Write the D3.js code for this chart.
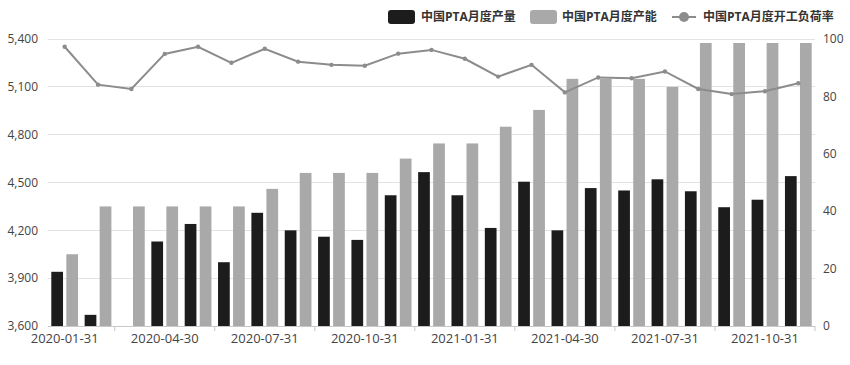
<!DOCTYPE html>
<html><head><meta charset="utf-8">
<script src="https://cdn.jsdelivr.net/npm/d3@7/dist/d3.min.js"></script>
<style>body{margin:0;background:#fff}svg{display:block;font-family:"Open Sans","Noto Sans CJK SC",sans-serif}</style>
</head><body><svg id="c" width="850" height="365"></svg>
<script>
const categories = ["2020-01-31","2020-02-29","2020-03-31","2020-04-30","2020-05-31","2020-06-30","2020-07-31","2020-08-31","2020-09-30","2020-10-31","2020-11-30","2020-12-31","2021-01-31","2021-02-28","2021-03-31","2021-04-30","2021-05-31","2021-06-30","2021-07-31","2021-08-31","2021-09-30","2021-10-31","2021-11-30"];
const production = [3940,3670,null,4130,4240,4000,4310,4200,4160,4140,4420,4565,4420,4215,4505,4200,4465,4450,4520,4445,4345,4392,4540];
const capacity = [4050,4350,4350,4350,4350,4350,4460,4560,4560,4560,4650,4745,4745,4850,4955,5150,5150,5150,5100,5375,5375,5375,5375];
const utilization = [97.3,84.1,82.6,94.8,97.3,91.7,96.6,92.1,91.0,90.7,94.9,96.2,93.1,86.9,91.0,81.4,86.6,86.3,88.7,82.6,80.8,81.8,84.6];
const leftTicks = [3600,3900,4200,4500,4800,5100,5400];
const rightTicks = [0,20,40,60,80,100];
const seriesNames = ["中国PTA月度产量","中国PTA月度产能","中国PTA月度开工负荷率"];

const svg = d3.select("#c");
const L = 48, R = 815, T = 39, B = 326;
const x = d3.scaleBand().domain(categories).range([L, R]).padding(0);
const inner = d3.scaleBand().domain(["p","c"]).range([0, x.bandwidth()]).paddingInner(0.22).paddingOuter(0.22);
const yL = d3.scaleLinear().domain([3600,5400]).range([B, T]);
const yR = d3.scaleLinear().domain([0,100]).range([B, T]);
const txt = "#444";

// gridlines
svg.append("g").selectAll("line").data(leftTicks).join("line")
  .attr("x1", L).attr("x2", R).attr("y1", d => yL(d)).attr("y2", d => yL(d))
  .attr("stroke", "#e3e3e3").attr("stroke-width", 1).attr("shape-rendering","crispEdges");

// left axis labels
svg.append("g").selectAll("text").data(leftTicks).join("text")
  .attr("x", 38).attr("y", d => yL(d)).attr("dy","0.35em").attr("text-anchor","end")
  .attr("font-size", 12).attr("fill", txt).text(d => d3.format(",")(d));
// right axis labels
svg.append("g").selectAll("text").data(rightTicks).join("text")
  .attr("x", 823).attr("y", d => yR(d)).attr("dy","0.35em").attr("text-anchor","start")
  .attr("font-size", 12).attr("fill", txt).text(d => d);

// bars
const g = svg.append("g");
g.selectAll("rect.p").data(categories.map((c,i)=>({c,v:production[i]})).filter(d=>d.v!=null)).join("rect")
  .attr("class","p").attr("x", d => x(d.c) + inner("p")).attr("width", inner.bandwidth())
  .attr("y", d => yL(d.v)).attr("height", d => B - yL(d.v)).attr("fill", "#1c1c1c");
g.selectAll("rect.c").data(categories.map((c,i)=>({c,v:capacity[i]}))).join("rect")
  .attr("class","c").attr("x", d => x(d.c) + inner("c")).attr("width", inner.bandwidth())
  .attr("y", d => yL(d.v)).attr("height", d => B - yL(d.v)).attr("fill", "#a9a9a9");

// x axis line and ticks
svg.append("line").attr("x1", L).attr("x2", R).attr("y1", B+0.5).attr("y2", B+0.5).attr("stroke", "#c8c8c8");
const tickIdx = d3.range(2, categories.length + 1, 3);
svg.append("g").selectAll("line").data(tickIdx).join("line")
  .attr("x1", i => L + i*x.step()).attr("x2", i => L + i*x.step())
  .attr("y1", B).attr("y2", B+5).attr("stroke", "#c8c8c8");
svg.append("g").selectAll("text").data(categories.filter((c,i)=>i%3===0)).join("text")
  .attr("x", d => x(d) + x.bandwidth()/2).attr("y", 343).attr("text-anchor","middle")
  .attr("font-size", 13).attr("fill", txt).text(d => d);

// line
const line = d3.line().x((d,i)=>x(categories[i]) + x.bandwidth()/2).y(d=>yR(d));
svg.append("path").attr("d", line(utilization)).attr("fill","none").attr("stroke","#8c8c8c").attr("stroke-width",2);
svg.append("g").selectAll("circle").data(utilization).join("circle")
  .attr("cx",(d,i)=>x(categories[i]) + x.bandwidth()/2).attr("cy", d=>yR(d)).attr("r",2.2).attr("fill","#8c8c8c");

// legend
const lg = svg.append("g").attr("font-size",12).attr("font-weight","bold").attr("fill","#333");
lg.append("rect").attr("x",388).attr("y",10).attr("width",27).attr("height",14).attr("rx",3).attr("fill","#1c1c1c");
lg.append("text").attr("x",421).attr("y",17).attr("dy","0.35em").text(seriesNames[0]);
lg.append("rect").attr("x",530).attr("y",10).attr("width",27).attr("height",14).attr("rx",3).attr("fill","#a9a9a9");
lg.append("text").attr("x",562).attr("y",17).attr("dy","0.35em").text(seriesNames[1]);
lg.append("line").attr("x1",672).attr("x2",696).attr("y1",17).attr("y2",17).attr("stroke","#8c8c8c").attr("stroke-width",2);
lg.append("circle").attr("cx",684).attr("cy",17).attr("r",5).attr("fill","#8c8c8c");
lg.append("text").attr("x",703).attr("y",17).attr("dy","0.35em").text(seriesNames[2]);
</script></body></html>
